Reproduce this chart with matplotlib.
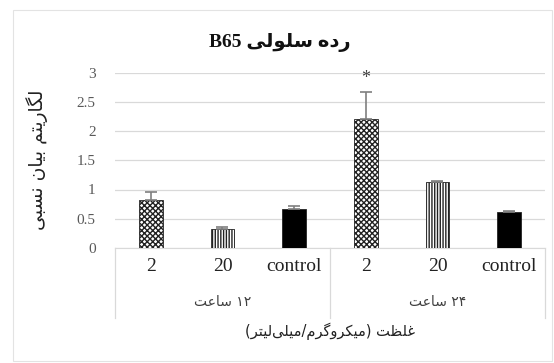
import numpy as np
import matplotlib
matplotlib.use('Agg')
import matplotlib.pyplot as plt
from matplotlib.patches import Rectangle
import matplotlib.transforms as mtransforms

# data
categories = ['2', '20', 'control', '2', '20', 'control']
groups = ['۱۲ ساعت', '۲۴ ساعت']
means = [0.82, 0.33, 0.66, 2.20, 1.12, 0.61]
errs = [0.14, 0.03, 0.06, 0.47, 0.03, 0.02]
hatches = ['xxxxxx', '||||||', None, 'xxxxxx', '||||||', None]
facecolors = ['white', 'white', 'black', 'white', 'white', 'black']
star_index = 3
title_txt = 'رده سلولی B65'
ylabel_txt = 'لگاریتم بیان نسبی'
xlabel_txt = 'غلظت (میکروگرم/میلی\u200cلیتر)'
yticks = [0, 0.5, 1, 1.5, 2, 2.5, 3]
ytick_labels = ['0', '0.5', '1', '1.5', '2', '2.5', '3']

# --- crude arabic shaping (matplotlib does no shaping itself) ---
# char: (isolated, final, initial, medial); right-joining letters only have 2
forms = {
    'ا': (0xFE8D, 0xFE8E), 'د': (0xFEA9, 0xFEAA), 'ر': (0xFEAD, 0xFEAE),
    'و': (0xFEED, 0xFEEE),
    'ب': (0xFE8F, 0xFE90, 0xFE91, 0xFE92), 'ت': (0xFE95, 0xFE96, 0xFE97, 0xFE98),
    'س': (0xFEB1, 0xFEB2, 0xFEB3, 0xFEB4), 'ظ': (0xFEC5, 0xFEC6, 0xFEC7, 0xFEC8),
    'ع': (0xFEC9, 0xFECA, 0xFECB, 0xFECC), 'غ': (0xFECD, 0xFECE, 0xFECF, 0xFED0),
    'ل': (0xFEDD, 0xFEDE, 0xFEDF, 0xFEE0), 'م': (0xFEE1, 0xFEE2, 0xFEE3, 0xFEE4),
    'ن': (0xFEE5, 0xFEE6, 0xFEE7, 0xFEE8), 'ه': (0xFEE9, 0xFEEA, 0xFEEB, 0xFEEC),
    'ی': (0xFBFC, 0xFBFD, 0xFBFE, 0xFBFF), 'ک': (0xFB8E, 0xFB8F, 0xFB90, 0xFB91),
    'گ': (0xFB92, 0xFB93, 0xFB94, 0xFB95),
}


def shape(s):
    out = []
    n = len(s)
    for i, c in enumerate(s):
        if c not in forms:
            out.append(c)
            continue
        f = forms[c]
        jp = i > 0 and s[i - 1] in forms and len(forms[s[i - 1]]) == 4
        jn = len(f) == 4 and i + 1 < n and s[i + 1] in forms
        if jp and jn:
            out.append(chr(f[3]))
        elif jp:
            out.append(chr(f[1]))
        elif jn:
            out.append(chr(f[2]))
        else:
            out.append(chr(f[0]))
    return ''.join(out)


def visual(s):
    t = shape(s).replace('\u200c', '')[::-1]
    t = t.translate(str.maketrans('()', ')('))
    # put LTR runs (latin, digits) back in order
    res, run = '', ''
    for c in t:
        if c.isascii() and c.isalnum() or c in '۰۱۲۳۴۵۶۷۸۹':
            run += c
        else:
            res += run[::-1] + c
            run = ''
    return res + run[::-1]


serif = ['Liberation Serif', 'DejaVu Sans']

fig = plt.figure(figsize=(5.54, 3.63), dpi=100)
fig.patches.append(Rectangle((13 / 554, 2 / 363), 539 / 554, 351 / 363, transform=fig.transFigure,
                             fill=False, edgecolor='#e3e3e3', lw=0.8))
ax = fig.add_axes([115 / 554, 1 - 248 / 363, 430 / 554, 175.5 / 363])

x = np.arange(len(categories))
for i in range(len(categories)):
    ax.bar(x[i], means[i], width=0.33, color=facecolors[i], edgecolor='#222222',
           hatch=hatches[i], lw=0.6, zorder=3)
ax.errorbar(x, means, yerr=[np.zeros(len(errs)), errs], fmt='none', ecolor='#7f7f7f',
            elinewidth=1.2, capsize=4, capthick=1.2, zorder=4)
ax.text(x[star_index], means[star_index] + errs[star_index] + 0.08, '*', ha='center', va='bottom',
        fontsize=13, family=serif, color='#404040')

ax.set_xlim(-0.5, len(categories) - 0.5)
ax.set_ylim(0, 3)
ax.set_yticks(yticks)
ax.set_yticklabels(ytick_labels, family=serif, fontsize=11, color='#595959')
ax.set_xticks(x)
ax.set_xticklabels(categories, family=serif, fontsize=14, color='#222222')
ax.tick_params(axis='both', length=0)
ax.tick_params(axis='y', pad=14)
ax.tick_params(axis='x', pad=7)
ax.grid(axis='y', color='#d9d9d9', lw=0.9, zorder=0)
for sp in ['top', 'right', 'left']:
    ax.spines[sp].set_visible(False)
ax.spines['bottom'].set_color('#d9d9d9')

# category table below the axis
tr = mtransforms.blended_transform_factory(ax.transData, ax.transAxes)
for xs in [-0.5, 2.5, 5.5]:
    ax.plot([xs, xs], [0, -0.40], transform=tr, color='#d9d9d9', lw=0.9, clip_on=False)
for g, name in enumerate(groups):
    ax.text(3 * g + 1, -0.31, visual(name), transform=tr, ha='center', va='center',
            fontsize=10, family='DejaVu Sans', color='#404040')

ax.text(0.5, -0.475, visual(xlabel_txt), transform=ax.transAxes, ha='center', va='center',
        fontsize=10.5, family='DejaVu Sans', color='#222222')
fig.text(37 / 554, 1 - 160 / 363, visual(ylabel_txt), rotation=90, ha='center', va='center',
         fontsize=13.5, family='DejaVu Sans', color='#222222')
fig.text(280 / 554, 1 - 42 / 363, visual(title_txt), ha='center', va='center',
         fontsize=14, weight='bold', family=serif, color='#111111')

fig.savefig('out.png', dpi=100)
